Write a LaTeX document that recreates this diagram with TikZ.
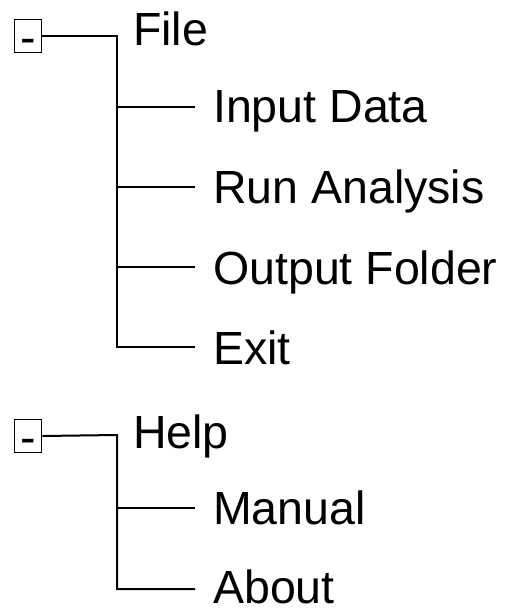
\documentclass[tikz,border=0pt]{standalone}
\usepackage{fontspec}
\setmainfont{Liberation Sans}
\begin{document}
\begin{tikzpicture}[x=1pt,y=-1pt,
  every node/.style={inner sep=0pt, font=\fontsize{46.5}{52}\selectfont},
  lbl/.style={anchor=base west},
  togglebox/.style={draw, line width=1.8pt, minimum width=27pt, minimum height=33pt, inner sep=0pt},
  conn/.style={line width=2pt}]
\useasboundingbox (0,0) rectangle (511,609);

% ---------- File group ----------
\node[togglebox] (box1) at (28,36) {};
\node[anchor=base] (m1) at (28,53.3) {-};
\coordinate (c1) at (117,36);
\coordinate (e1) at (195,107);
\coordinate (e2) at (195,187);
\coordinate (e3) at (195,267);
\coordinate (e4) at (195,347);
\node[lbl] (file) at (133,46) {File};
\node[lbl] (input) at (213,123) {Input Data};
\node[lbl] (run) at (213,204) {Run Analysis};
\node[lbl] (output) at (213,284) {Output Folder};
\node[lbl] (exit) at (213,364) {Exit};
\draw[conn] (box1.east) -- (c1) |- (e4);
\draw[conn] (c1 |- e1) -- (e1);
\draw[conn] (c1 |- e2) -- (e2);
\draw[conn] (c1 |- e3) -- (e3);

% ---------- Help group ----------
\node[togglebox] (box2) at (28,436) {};
\node[anchor=base] (m2) at (28,453.3) {-};
\coordinate (c2) at (117,435);
\coordinate (f1) at (195,508);
\coordinate (f2) at (195,589);
\node[lbl] (help) at (133,448) {Help};
\node[lbl] (manual) at (213,524) {Manual};
\node[lbl] (about) at (213,603) {About};
\draw[conn] (box2.east) -- (c2) |- (f2);
\draw[conn] (c2 |- f1) -- (f1);
\end{tikzpicture}
\end{document}
